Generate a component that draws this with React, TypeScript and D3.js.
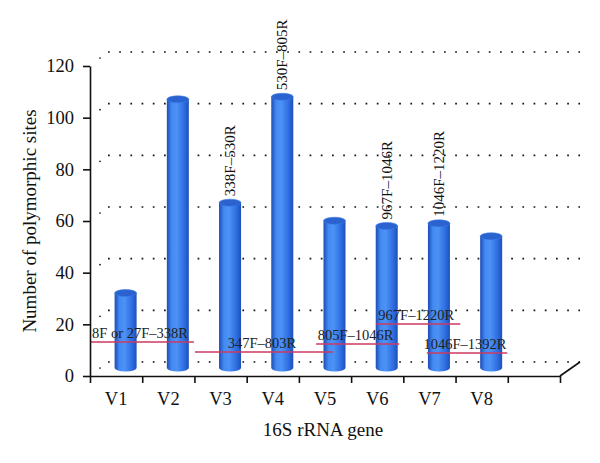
import React, { useRef, useEffect } from "react";
import * as d3 from "d3";

// V1..V8 bars, plus an empty slot at the end of the floor
const regions = ["V1", "V2", "V3", "V4", "V5", "V6", "V7", "V8"];
const sites = [29, 104, 64, 105, 57, 55, 56, 51];
const yTicks = [0, 20, 40, 60, 80, 100, 120];

// primer labels drawn vertically above some bars
const barLabelIdx = [2, 3, 5, 6];
const barLabels = ["338F\u2013530R", "530F\u2013805R", "967F\u20131046R", "1046F\u20131220R"];

// primer ranges: horizontal red lines (x in category slots, y in sites)
const primerNames = ["8F or 27F\u2013338R", "347F\u2013803R", "805F\u20131046R", "967F\u20131220R", "1046F\u20131392R"];
const primerStart = [0, 2.01, 4.33, 5.48, 6.45];
const primerEnd = [1.99, 4.65, 5.92, 7.09, 7.99];
const primerLevel = [13.2, 9.3, 12.4, 20.1, 8.9];

const FONT = "'Liberation Serif', 'Times New Roman', serif";

const App = () => {
  const svgRef = useRef(null);

  const width = 600;
  const height = 463;
  const left = 90;
  const right = 560;
  const bottom = 376;
  const top = 66;
  const depthX = 20; // 3D back wall offset
  const depthY = -14;

  useEffect(() => {
    const svg = d3.select(svgRef.current);
    svg.selectAll("*").remove(); //clear

    const x = d3.scaleLinear().domain([0, 9]).range([left, right]);
    const y = d3.scaleLinear().domain([0, 120]).range([bottom, top]);

    // gradient for the cylinders
    const defs = svg.append("defs");
    const grad = defs
      .append("linearGradient")
      .attr("id", "cyl")
      .attr("x1", "0%")
      .attr("x2", "100%");
    grad.append("stop").attr("offset", "0%").attr("stop-color", "#1c4cb4");
    grad.append("stop").attr("offset", "22%").attr("stop-color", "#4289f2");
    grad.append("stop").attr("offset", "45%").attr("stop-color", "#4d92f5");
    grad.append("stop").attr("offset", "80%").attr("stop-color", "#2d6ce0");
    grad.append("stop").attr("offset", "100%").attr("stop-color", "#1d4fb8");

    // back wall dotted gridlines
    const grid = svg.append("g");
    yTicks.forEach((t) => {
      grid
        .append("line")
        .attr("x1", left + depthX - 2)
        .attr("x2", right + depthX)
        .attr("y1", y(t) + depthY)
        .attr("y2", y(t) + depthY)
        .attr("stroke", "#111")
        .attr("stroke-width", 1.7)
        .attr("stroke-dasharray", "1.7 9.5");
      grid
        .append("circle")
        .attr("cx", left + depthX / 2)
        .attr("cy", y(t) + depthY / 2 - 1)
        .attr("r", 0.85)
        .attr("fill", "#111");
    });

    // cylinders
    const barW = 22;
    const ry = 3.5;
    const offX = depthX / 2 - 0.5;
    const offY = -8;
    const bars = svg.append("g");
    sites.forEach((v, i) => {
      const cx = x(i + 0.5) + offX;
      const yb = y(0) + offY;
      const yt = y(v) + offY;
      const x0 = cx - barW / 2;
      const x1 = cx + barW / 2;
      bars
        .append("path")
        .attr(
          "d",
          `M${x0},${yt} L${x0},${yb} A${barW / 2},${ry} 0 0 0 ${x1},${yb} L${x1},${yt} Z`
        )
        .attr("fill", "url(#cyl)");
      bars
        .append("ellipse")
        .attr("cx", cx)
        .attr("cy", yt)
        .attr("rx", barW / 2)
        .attr("ry", ry)
        .attr("fill", "#2a62cf")
        .attr("stroke", "#3a7ae8")
        .attr("stroke-width", 0.6);
    });

    // vertical primer labels above bars
    barLabelIdx.forEach((i, k) => {
      const cx = x(i + 0.5) + offX;
      const yt = y(sites[i]) + offY - ry - 3;
      svg
        .append("text")
        .attr("transform", `translate(${cx + 5}, ${yt}) rotate(-90)`)
        .attr("font-family", FONT)
        .attr("font-size", 15)
        .attr("fill", "#111")
        .text(barLabels[k]);
    });

    // primer range lines
    primerNames.forEach((name, k) => {
      const x0 = x(primerStart[k]);
      const x1 = x(primerEnd[k]);
      const ly = y(primerLevel[k]);
      svg
        .append("line")
        .attr("x1", x0)
        .attr("x2", x1)
        .attr("y1", ly)
        .attr("y2", ly)
        .attr("stroke", "#cc3a62")
        .attr("stroke-width", 1.5);
      svg
        .append("text")
        .attr("x", (x0 + x1) / 2 - 2)
        .attr("y", ly - 4)
        .attr("text-anchor", "middle")
        .attr("font-family", FONT)
        .attr("font-size", 14.5)
        .attr("fill", "#222")
        .text(name);
    });

    // y axis
    const yAxis = d3
      .axisLeft(y)
      .tickValues(yTicks)
      .tickSize(7)
      .tickPadding(9)
      .tickSizeOuter(0);
    const gy = svg.append("g").attr("transform", `translate(${left}, 0)`).call(yAxis);
    gy.selectAll("path, line").attr("stroke", "#111").attr("stroke-width", 1.6);
    gy.selectAll("text")
      .attr("font-family", FONT)
      .attr("font-size", 18.5)
      .attr("fill", "#111");

    // x axis (floor front edge)
    const xAxis = d3
      .axisBottom(x)
      .tickValues(d3.range(0, 10))
      .tickSize(7)
      .tickSizeOuter(0)
      .tickFormat(() => "");
    const gx = svg.append("g").attr("transform", `translate(0, ${bottom})`).call(xAxis);
    gx.selectAll("path, line").attr("stroke", "#111").attr("stroke-width", 1.6);

    svg
      .append("line")
      .attr("x1", right)
      .attr("y1", bottom)
      .attr("x2", right + depthX)
      .attr("y2", bottom + depthY)
      .attr("stroke", "#111")
      .attr("stroke-width", 1.6);

    svg
      .append("g")
      .selectAll("text")
      .data(regions)
      .enter()
      .append("text")
      .attr("x", (d, i) => x(i + 0.5))
      .attr("y", bottom + 29)
      .attr("text-anchor", "middle")
      .attr("font-family", FONT)
      .attr("font-size", 18.5)
      .attr("fill", "#111")
      .text((d) => d);

    // titles
    svg
      .append("text")
      .attr("x", 323)
      .attr("y", 436)
      .attr("text-anchor", "middle")
      .attr("font-family", FONT)
      .attr("font-size", 19)
      .attr("fill", "#111")
      .text("16S rRNA gene");

    svg
      .append("text")
      .attr("transform", `translate(36, 221) rotate(-90)`)
      .attr("text-anchor", "middle")
      .attr("font-family", FONT)
      .attr("font-size", 19)
      .attr("fill", "#111")
      .text("Number of polymorphic sites");
  }, []);

  return (
    <div>
      <svg
        ref={svgRef}
        width={width}
        height={height}
        style={{ position: "absolute", left: 0, top: 0, background: "#fff" }}
      ></svg>
    </div>
  );
};

export default App;
